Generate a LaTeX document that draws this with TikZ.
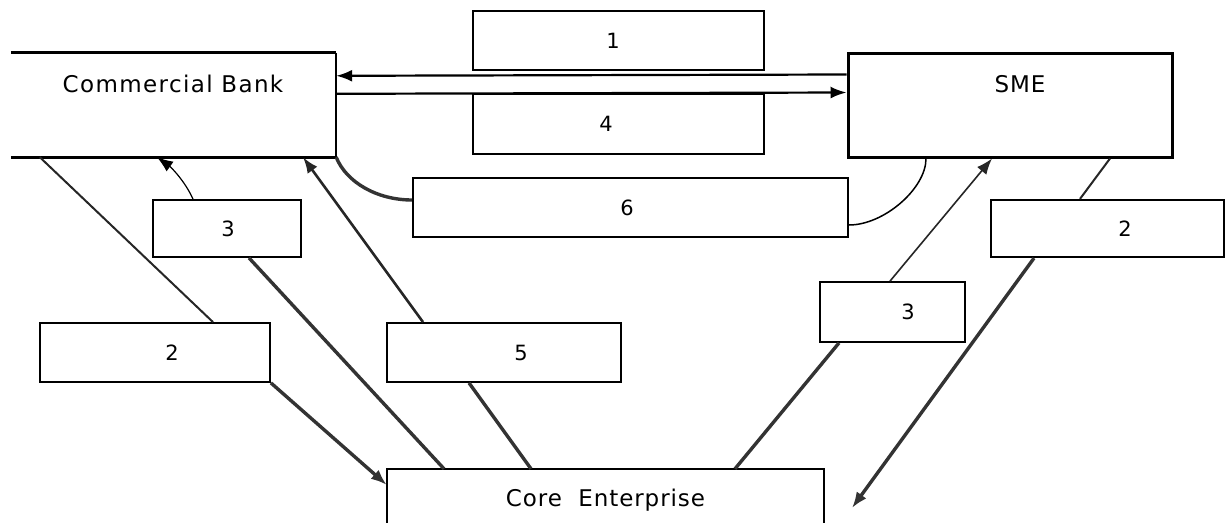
\documentclass[tikz,border=0pt]{standalone}
\usepackage{fontspec}
\setmainfont{DejaVu Sans}
\newfontfamily\cbfont[LetterSpace=6]{DejaVu Sans}
\newfontfamily\lsfont[LetterSpace=4]{DejaVu Sans}
\usetikzlibrary{arrows.meta}
\begin{document}
\begin{tikzpicture}[x=1pt,y=-1pt,
  txt/.style={font=\fontsize{21}{25}\selectfont},
  bigtxt/.style={font=\lsfont\fontsize{23}{27}\selectfont},
  bx/.style={draw=black, line width=1.8pt, inner sep=0pt, txt},
  bigbx/.style={inner sep=0pt},
  arr/.style={-{Latex[length=16pt,width=12pt]}},
  thinln/.style={line width=1.2pt, draw=black},
  midln/.style={line width=2pt, draw=black!85},
  thkln/.style={line width=3.4pt, draw=black!80}]
\useasboundingbox (0,0) rectangle (1225,522);
% main boxes
\node[bigbx, minimum width=325pt, minimum height=104pt] (cb) at (173.5,105) {};
\draw[line width=3pt] (cb.north west) -- (cb.north east);
\draw[line width=3pt] (cb.south west) -- (cb.south east);
\draw[line width=2.2pt] (cb.north east) -- (cb.south east);
\node[font=\cbfont\fontsize{23}{27}\selectfont] (cbt) at (173,84) {Commercial Bank};
\node[bx, line width=3pt, minimum width=324pt, minimum height=104pt] (sme) at (1010,105) {};
\node[bigtxt] (smet) at (1020,84) {SME};
\node[bigbx, bigtxt, minimum width=437pt, minimum height=62pt] (ce) at (605.5,500) {Core\ \ Enterprise};
\draw[line width=1.8pt] (ce.south west) -- (ce.north west) -- (ce.north east) -- (ce.south east);
% label boxes
\node[bx, line width=2pt, minimum width=291pt, minimum height=59pt] (b1) at (618.5,40.5) {\hspace*{-11pt}1};
\node[bx, line width=1.5pt, minimum width=291pt, minimum height=60pt] (b4) at (618.5,124) {\hspace*{-25pt}4};
\node[bx, line width=2pt, minimum width=435pt, minimum height=59pt] (b6) at (630.5,207.5) {\hspace*{-7pt}6};
\node[bx, minimum width=148pt, minimum height=57pt] (b3l) at (227,228.5) {\hspace*{2pt}3};
\node[bx, minimum width=230pt, minimum height=59pt] (b2l) at (155,352.5) {\hspace*{34pt}2};
\node[bx, minimum width=234pt, minimum height=59pt] (b5) at (504,352.5) {\hspace*{34pt}5};
\node[bx, minimum width=145pt, minimum height=60pt] (b3r) at (892.5,312) {\hspace*{31pt}3};
\node[bx, line width=2.2pt, minimum width=233pt, minimum height=57pt] (b2r) at (1107.5,228.5) {\hspace*{35pt}2};
% horizontal arrows 1 and 4
\draw[arr, line width=2.2pt] ([yshift=-23pt]sme.north west) -- ([yshift=-23pt]cb.north east);
\draw[arr, line width=2.2pt] ([yshift=-41pt]cb.north east) -- ([yshift=-41pt]sme.north west);
% flow 2 (left)
\draw[midln] ([xshift=29pt]cb.south west) -- ([xshift=58pt]b2l.north);
\draw[thkln, arr] (b2l.south east) -- ([yshift=15pt]ce.west);
% flow 3 (left)
\draw[thkln] ([xshift=-161.5pt]ce.north) -- ([xshift=22pt]b3l.south);
\draw[thinln, arr] ([xshift=-34pt]b3l.north) .. controls +(-8,-18) and +(14,10) .. ([xshift=-16.5pt]cb.south);
% flow 5
\draw[thkln] ([xshift=-74.5pt]ce.north) -- ([xshift=-35pt]b5.south);
\draw[midln, line width=2.6pt, arr] ([xshift=-81pt]b5.north) -- ([xshift=129.5pt]cb.south);
% flow 6
\draw[thkln] (cb.south east) .. controls +(10,25) and +(-35,0) .. ([yshift=7.5pt]b6.west);
\draw[thinln, line width=1.5pt] ([yshift=-17.5pt]b6.east) .. controls +(35,0) and +(0,30) .. ([xshift=-84pt]sme.south);
% flow 3 (right)
\draw[thkln] ([xshift=129.5pt]ce.north) -- ([xshift=-53.5pt]b3r.south);
\draw[midln, line width=1.6pt, arr] ([xshift=-2.5pt]b3r.north) -- ([xshift=-18pt]sme.south);
% flow 2 (right)
\draw[midln] ([xshift=100pt]sme.south) -- ([xshift=-27.5pt]b2r.north);
\coordinate (h2end) at (852,508);
\draw[thkln, arr] ([xshift=-73.5pt]b2r.south) -- (h2end);
\end{tikzpicture}
\end{document}
